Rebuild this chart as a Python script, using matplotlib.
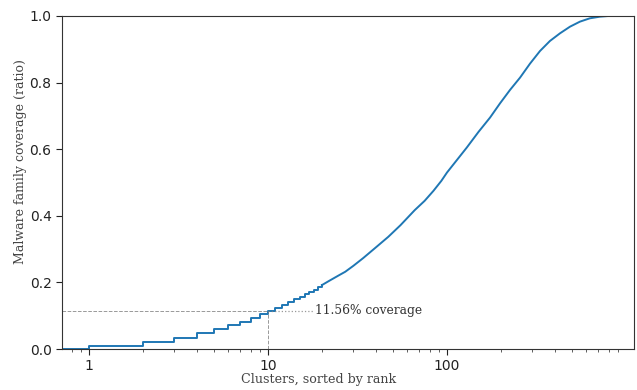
import matplotlib
matplotlib.use("Agg")
import matplotlib.pyplot as plt

# coverage per rank for the first clusters (each step visible)
step_rank = [0, 1, 2, 3, 4, 5, 6, 7, 8, 9, 10, 11, 12, 13, 14, 15, 16, 17, 18, 19, 20]
step_cov = [0.0, 0.010, 0.021, 0.034, 0.047, 0.059, 0.071, 0.082, 0.094, 0.105, 0.1156,
            0.124, 0.133, 0.141, 0.149, 0.157, 0.164, 0.171, 0.178, 0.185, 0.192]

# coverage read at larger ranks
tail_rank = [20, 22, 25, 27, 30, 34, 40, 47, 55, 66, 75, 84, 93, 100, 129, 150, 174,
             198, 225, 256, 291, 331, 376, 428, 487, 553, 628, 716, 797]
tail_cov = [0.192, 0.205, 0.222, 0.232, 0.250, 0.273, 0.305, 0.337, 0.372, 0.417, 0.445,
            0.475, 0.505, 0.530, 0.605, 0.652, 0.695, 0.738, 0.778, 0.815, 0.857, 0.895,
            0.925, 0.948, 0.968, 0.983, 0.993, 0.998, 1.0]

mark_rank = 10
mark_cov = 0.1156

fig = plt.figure(figsize=(6.37, 3.9), dpi=100)
ax = fig.add_axes([0.0973, 0.105, 0.898, 0.854])
ax.set_xscale("log", nonpositive="clip")

col = "#1f77b4"
ax.plot(step_rank, step_cov, drawstyle="steps-post", color=col, lw=1.4)
ax.plot(tail_rank, tail_cov, color=col, lw=1.4)

ax.set_xlim(0.706, 1109)
ax.set_ylim(0, 1.0)

# marker lines for the top 10 clusters
ax.plot([0.706, mark_rank], [mark_cov, mark_cov], color="gray", ls="--", lw=0.7, alpha=0.8)
ax.plot([mark_rank, mark_rank], [0, mark_cov], color="gray", ls="--", lw=0.7, alpha=0.8)
ax.plot([mark_rank, 18.0], [mark_cov, mark_cov], color="gray", ls=":", lw=0.9, alpha=0.8)
ax.text(18.2, mark_cov, "11.56% coverage", family="DejaVu Serif", fontsize=8.8,
        color="#333333", va="center", ha="left")

ax.set_xticks([1, 10, 100])
ax.set_xticklabels(["1", "10", "100"])
ax.set_yticks([0.0, 0.2, 0.4, 0.6, 0.8, 1.0])
ax.set_yticklabels(["0.0", "0.2", "0.4", "0.6", "0.8", "1.0"])
ax.tick_params(labelsize=10, colors="#222222", length=4)
ax.tick_params(which="minor", length=2, colors="#444444")

for s in ax.spines.values():
    s.set_color("#333333")

ax.set_xlabel("Clusters, sorted by rank", family="DejaVu Serif", fontsize=9.1,
              color="#444444")
ax.set_ylabel("Malware family coverage (ratio)", family="DejaVu Serif", fontsize=9,
              color="#444444")
ax.xaxis.set_label_coords((319 - 62) / 572, -0.072)
ax.yaxis.set_label_coords(-0.061, (349 - 162) / 333)

fig.savefig("out.png", dpi=100)
